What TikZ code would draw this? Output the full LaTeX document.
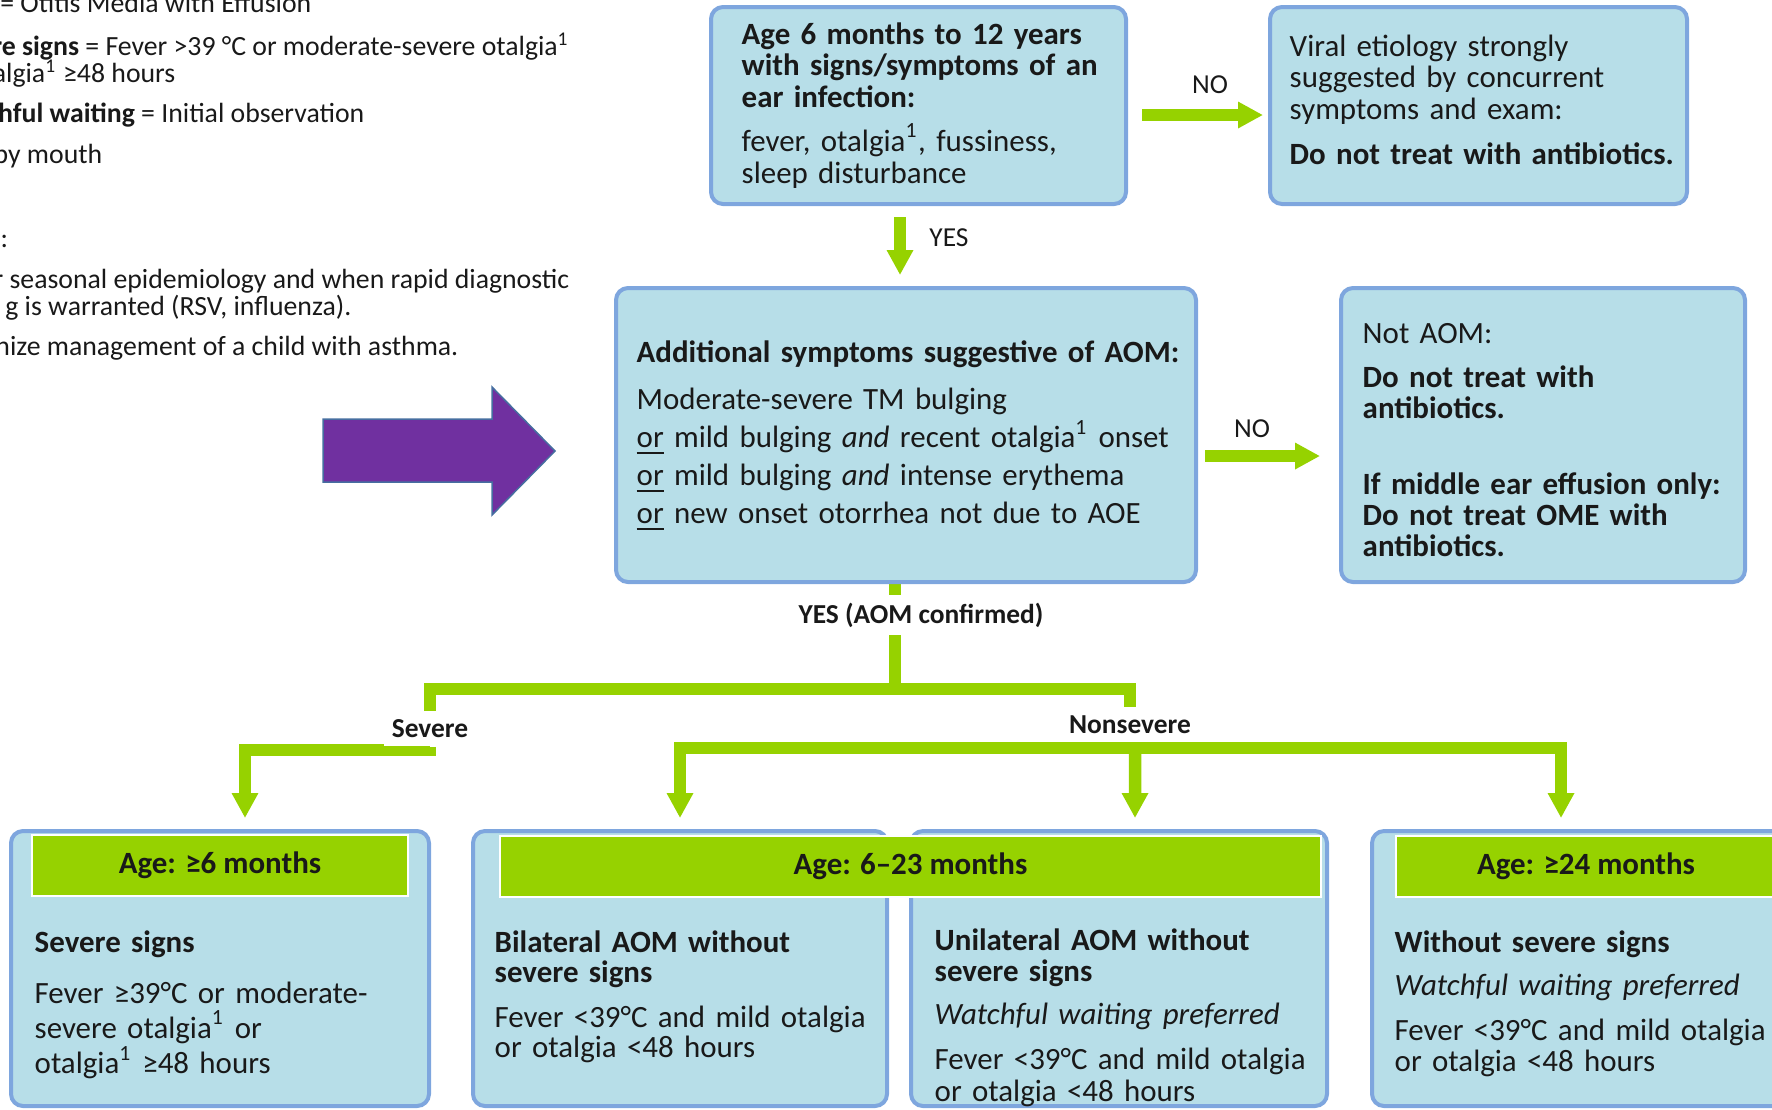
\documentclass[tikz,border=0pt]{standalone}
\usepackage{fontspec}
\setmainfont{Carlito}
\usepackage{tikz}
\usetikzlibrary{positioning,arrows.meta,backgrounds}

\definecolor{boxfill}{RGB}{183,222,232}
\definecolor{boxline}{RGB}{126,166,222}
\definecolor{flowgreen}{RGB}{150,210,0}
\definecolor{arrowpurple}{RGB}{112,48,160}
\definecolor{arrowedge}{RGB}{70,110,160}
\definecolor{ink}{RGB}{25,25,25}
\newcommand{\setfs}[2]{\fontsize{#1}{#2}\selectfont\lineskiplimit=-\maxdimen}

\begin{document}
\begin{tikzpicture}[x=0.1mm,y=-0.1mm,
  box/.style={draw=boxline,fill=boxfill,line width=0.4mm,rounded corners=1.2mm,inner sep=0pt},
  hdr/.style={draw=white,fill=flowgreen,line width=0.25mm,inner sep=0pt,text=ink,font=\setfs{8.8}{9}\bfseries},
  txt/.style={anchor=base west,inner sep=0pt,align=left,text=ink},
  side/.style={anchor=base east,inner sep=0pt,text=ink,font=\setfs{7.9}{9}},
  note/.style={inner sep=0pt,text=ink,font=\setfs{7.8}{9}},
  cut/.style={note,fill=white,inner sep=0.8mm,font=\setfs{7.8}{9}\bfseries},
  trunk/.style={draw=flowgreen,line width=1.25mm},
  flow/.style={trunk,-{Triangle[width=2.5mm,length=2.5mm]}}]
  \useasboundingbox (0,0) rectangle (1772,1109);
  \clip (0,0) rectangle (1772,1109);
  % abbreviations and notes, cut at the left edge
  \node[side] (abbr1) at (312,12) {= Otitis Media with Effusion};
  \node[side] (abbr2) at (570,55) {\textbf{re signs} = Fever >39 °C or moderate-severe otalgia\textsuperscript{1}};
  \node[side] (abbr3) at (176,82) {algia\textsuperscript{1} ≥48 hours};
  \node[side] (abbr4) at (365,122) {\textbf{hful waiting} = Initial observation};
  \node[side] (abbr5) at (103,163) {by mouth};
  \node[side,anchor=base west] (note0) at (0,247) {:};
  \node[side] (note1) at (570,288) {r seasonal epidemiology and when rapid diagnostic};
  \node[side] (note2) at (352,315) {g is warranted (RSV, influenza).};
  \node[side] (note3) at (459,355) {nize management of a child with asthma.};
  % pointer
  \filldraw[fill=arrowpurple,draw=arrowedge,line width=0.15mm]
    (323,419) -- (492,419) -- (492,387) -- (555,451) -- (492,515) -- (492,482) -- (323,482) -- cycle;
  % boxes
  \node[box,minimum width=41.5mm,minimum height=19.7mm] (topq) at (918.5,105.5) {};
  \node[box,minimum width=41.7mm,minimum height=19.7mm] (viral) at (1478.5,105.5) {};
  \node[box,minimum width=58mm,minimum height=29.4mm] (addsym) at (906,435) {};
  \node[box,minimum width=40.4mm,minimum height=29.4mm] (notaom) at (1543,435) {};
  \node[box,minimum width=41.8mm,minimum height=27.5mm] (sevbox) at (220,968.5) {};
  \node[box,minimum width=41.4mm,minimum height=27.5mm] (bilat) at (680,968.5) {};
  \node[box,minimum width=41.6mm,minimum height=27.5mm] (unilat) at (1119,968.5) {};
  \node[box,minimum width=41.8mm,minimum height=27.5mm] (older) at (1581,968.5) {};
  % box texts
  \node[txt,text width=40mm,font=\setfs{8.8}{9}] (topqtxt) at (741,44)
    {\textbf{Age 6 months to 12 years}\\ \textbf{with signs/symptoms of an}\\ \textbf{ear infection:}\\[1.25mm]
     fever, otalgia\textsuperscript{1}, fussiness,\\ sleep disturbance};
  \node[txt,text width=40mm,font=\setfs{8.8}{9}] (viraltxt) at (1289,56)
    {Viral etiology strongly\\ suggested by concurrent\\ symptoms and exam:\\[1.35mm]
     \textbf{Do not treat with antibiotics.}};
  \node[txt,text width=56mm,font=\setfs{8.8}{10.8}] (addsymtxt) at (636,362)
    {\textbf{Additional symptoms suggestive of AOM:}\\[1mm]
     Moderate-severe TM bulging\\
     \underline{or} mild bulging \textit{and} recent otalgia\textsuperscript{1} onset\\
     \underline{or} mild bulging \textit{and} intense erythema\\
     \underline{or} new onset otorrhea not due to AOE};
  \node[txt,text width=38mm,font=\setfs{8.8}{8.8}] (notaomtxt) at (1362,343)
    {Not AOM:\\[1.4mm]
     \textbf{Do not treat with}\\ \textbf{antibiotics.}\\[4.5mm]
     \textbf{If middle ear effusion only:}\\ \textbf{Do not treat OME with}\\ \textbf{antibiotics.}};
  \node[txt,text width=40mm,font=\setfs{8.8}{10}] (sevtxt) at (34,952)
    {\textbf{Severe signs}\\[1.6mm]
     Fever ≥39°C or moderate-\\ severe otalgia\textsuperscript{1} or\\ otalgia\textsuperscript{1} ≥48 hours};
  \node[txt,text width=40mm,font=\setfs{8.8}{8.6}] (bilattxt) at (494,952)
    {\textbf{Bilateral AOM without}\\ \textbf{severe signs}\\[1.5mm]
     Fever <39°C and mild otalgia\\ or otalgia <48 hours};
  \node[txt,text width=40mm,font=\setfs{8.8}{9}] (unilattxt) at (934,950)
    {\textbf{Unilateral AOM without}\\ \textbf{severe signs}\\[1.15mm]
     \textit{Watchful waiting preferred}\\[1.35mm]
     Fever <39°C and mild otalgia\\ or otalgia <48 hours};
  \node[txt,text width=40mm,font=\setfs{8.8}{9}] (oldertxt) at (1394,952)
    {\textbf{Without severe signs}\\[1.15mm]
     \textit{Watchful waiting preferred}\\[1.35mm]
     Fever <39°C and mild otalgia\\ or otalgia <48 hours};
  % age headers
  \node[hdr,minimum width=37.6mm,minimum height=6.1mm] (hdrA) at (220,865.5) {Age: ≥6 months};
  \node[hdr,minimum width=82.1mm,minimum height=6.1mm] (hdrB) at (910.5,866.5) {Age: 6–23 months};
  \node[hdr,minimum width=38mm,minimum height=6.1mm] (hdrD) at (1586,866.5) {Age: ≥24 months};
  % labels
  \node[note] (no1) at (1210,85) {NO};
  \node[note] (yes1) at (949,238) {YES};
  \node[note] (no2) at (1252,429) {NO};
  \node[cut] (yeslbl) at (921,615) {YES (AOM confirmed)};
  \node[cut] (sevlbl) at (430,729) {Severe};
  \node[cut] (nonsevlbl) at (1130,725) {Nonsevere};
  % connectors
  \coordinate (split) at (895,689);
  \coordinate (sevfork) at (430,689);
  \coordinate (nonfork) at (1130,689);
  \coordinate (sevbar) at (430,750);
  \coordinate (nonbar) at (1135,748);
  \begin{scope}[on background layer]
    \draw[flow,shorten <=1.4mm,shorten >=0.5mm] ([yshift=-0.95mm]topq.east) -- ([yshift=-0.95mm]viral.west);
    \draw[flow,shorten <=1.1mm,shorten >=1.1mm] ([xshift=-1.85mm]topq.south) coordinate (yestop) -- (yestop |- addsym.north);
    \draw[flow,shorten <=0.7mm,shorten >=1.9mm] ([yshift=-2.1mm]addsym.east) -- ([yshift=-2.1mm]addsym.east -| notaom.west);
    \draw[trunk] (addsym.south -| split) -- (split);
    \draw[trunk] (sevlbl.north) -- (sevfork) -- (nonfork) -- (nonsevlbl.north);
    \draw[flow,shorten >=1.1mm] (sevlbl.south) -- (sevbar) -| ([xshift=2.5mm]sevbox.north);
    \draw[flow,shorten >=1.1mm] (nonbar) -| (bilat.north);
    \draw[flow,shorten >=1.1mm] (nonbar) -- ([xshift=1.6mm]unilat.north);
    \draw[flow,shorten >=1.1mm] (nonbar) -| ([xshift=-2mm]older.north);
  \end{scope}
\end{tikzpicture}
\end{document}
